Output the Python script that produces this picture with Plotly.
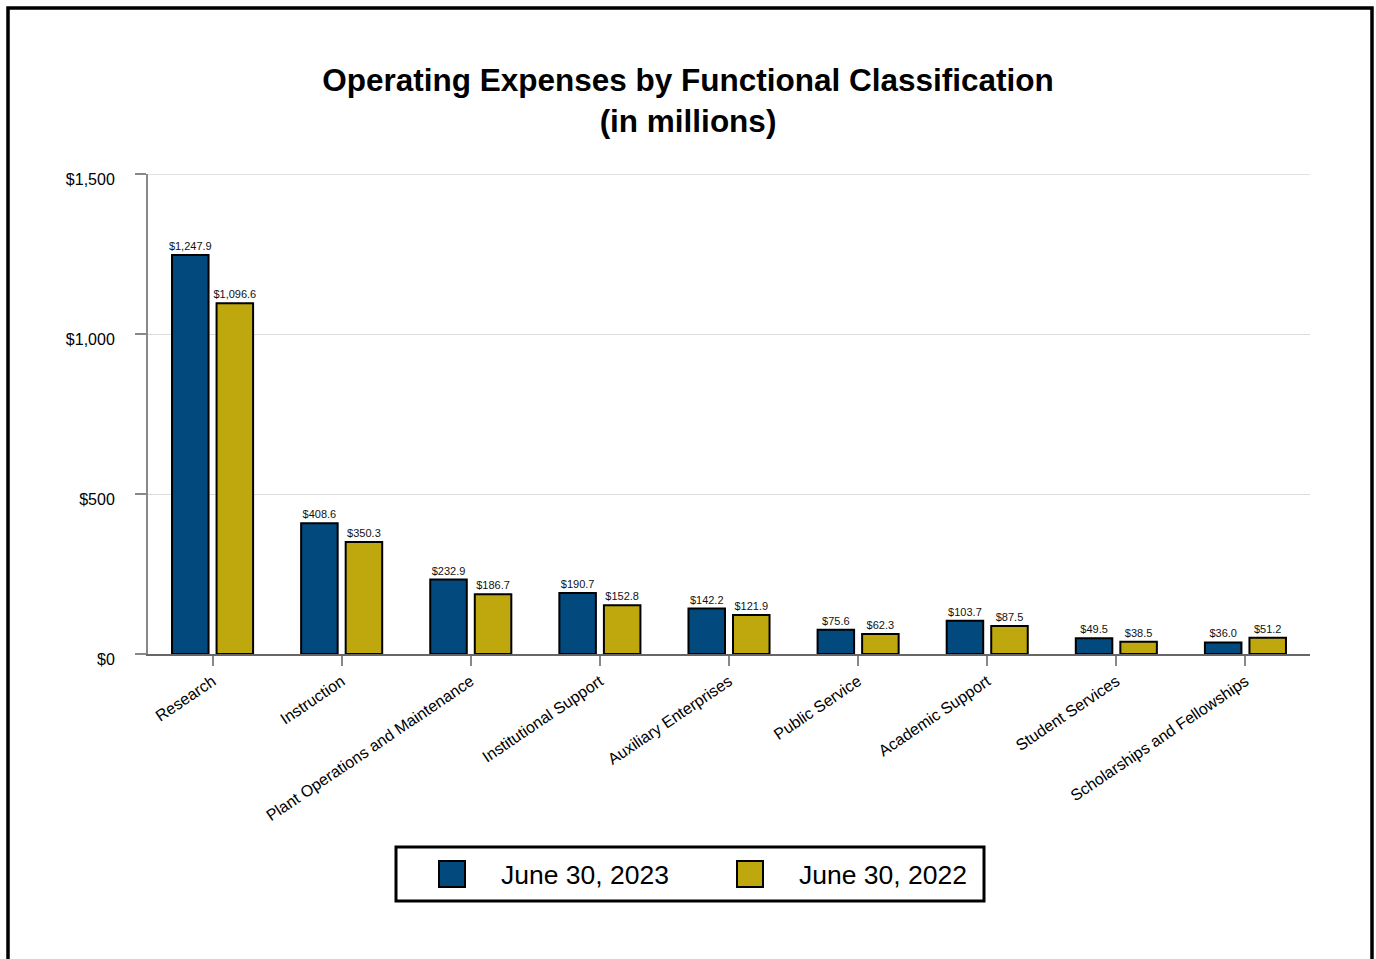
import plotly.graph_objects as go

categories = ["Research", "Instruction", "Plant Operations and Maintenance",
              "Institutional Support", "Auxiliary Enterprises", "Public Service",
              "Academic Support", "Student Services", "Scholarships and Fellowships"]
fy2023 = [1247.9, 408.6, 232.9, 190.7, 142.2, 75.6, 103.7, 49.5, 36.0]
fy2022 = [1096.6, 350.3, 186.7, 152.8, 121.9, 62.3, 87.5, 38.5, 51.2]
series_names = ["June 30, 2023", "June 30, 2022"]
y_ticks = [0, 500, 1000, 1500]
y_tick_labels = ["$0", "$500", "$1,000", "$1,500"]

BLUE = "#02497E"
GOLD = "#BFA70E"
GRID = "#dcdcdc"
FONT = "Liberation Sans, Arial, sans-serif"

W, H = 1376, 959
L, R, T, B = 148, 1310, 174, 654


def px(x):
    return (x - L) / (R - L)


def py(y):
    return (B - y) / (B - T)


fig = go.Figure()
for name, vals, col in [(series_names[0], fy2023, BLUE), (series_names[1], fy2022, GOLD)]:
    fig.add_trace(go.Bar(
        x=categories, y=vals, name=name,
        marker=dict(color=col, line=dict(color="black", width=2)),
        texttemplate="$%{y:,.1f}", textposition="outside",
        textfont=dict(size=11, color="#111", family=FONT),
        constraintext="none", cliponaxis=False, showlegend=False,
    ))

shapes = [
    # top gridline at the last tick
    dict(type="line", xref="paper", yref="y", x0=0, x1=1,
         y0=y_ticks[-1], y1=y_ticks[-1], line=dict(color=GRID, width=1), layer="below"),
    # outer frame
    dict(type="rect", xref="paper", yref="paper",
         x0=px(8), x1=px(1372), y0=py(975), y1=py(8),
         line=dict(color="black", width=3.5), fillcolor="rgba(0,0,0,0)", layer="above"),
    # legend box
    dict(type="rect", xref="paper", yref="paper",
         x0=px(396), x1=px(984), y0=py(901), y1=py(847),
         line=dict(color="black", width=3), fillcolor="white"),
    dict(type="rect", xref="paper", yref="paper",
         x0=px(439), x1=px(465), y0=py(887), y1=py(861),
         line=dict(color="black", width=2), fillcolor=BLUE),
    dict(type="rect", xref="paper", yref="paper",
         x0=px(737), x1=px(763), y0=py(887), y1=py(861),
         line=dict(color="black", width=2), fillcolor=GOLD),
]
annotations = [
    dict(text=series_names[0], xref="paper", yref="paper", x=px(499), y=py(875),
         xanchor="left", yanchor="middle", showarrow=False,
         font=dict(size=26.5, color="black", family=FONT)),
    dict(text=series_names[1], xref="paper", yref="paper", x=px(797), y=py(875),
         xanchor="left", yanchor="middle", showarrow=False,
         font=dict(size=26.5, color="black", family=FONT)),
]

fig.update_layout(
    width=W, height=H,
    margin=dict(l=L, r=W - R, t=T, b=H - B, pad=0),
    paper_bgcolor="white", plot_bgcolor="white",
    font=dict(family=FONT, color="black"),
    title=dict(text="<b>Operating Expenses by Functional Classification<br>(in millions)</b>",
               x=0.5, xref="container", xanchor="center",
               y=1 - 91 / H, yref="container", yanchor="top",
               font=dict(size=31.5, color="black", family=FONT)),
    barmode="group", bargap=0.31, bargroupgap=0.18,
    shapes=shapes, annotations=annotations,
    showlegend=False,
)
fig.update_xaxes(
    showline=True, linecolor="#666", linewidth=2,
    ticks="outside", ticklen=10, tickwidth=2, tickcolor="#888",
    tickangle=-34, tickfont=dict(size=16, color="black", family=FONT),
    showgrid=False,
)
fig.update_yaxes(
    range=[0, 1501], tickvals=y_ticks, ticktext=y_tick_labels,
    showline=True, linecolor="#888", linewidth=2,
    ticks="outside", ticklen=11, tickwidth=2, tickcolor="#888",
    ticklabelstandoff=17, ticklabelshift=5,
    tickfont=dict(size=16, color="black", family=FONT),
    showgrid=True, gridcolor=GRID, gridwidth=1, zeroline=False,
)
fig.write_html("out.html", config={"displayModeBar": False},
               post_script="document.body.style.margin='0px';document.body.style.overflow='hidden';")
